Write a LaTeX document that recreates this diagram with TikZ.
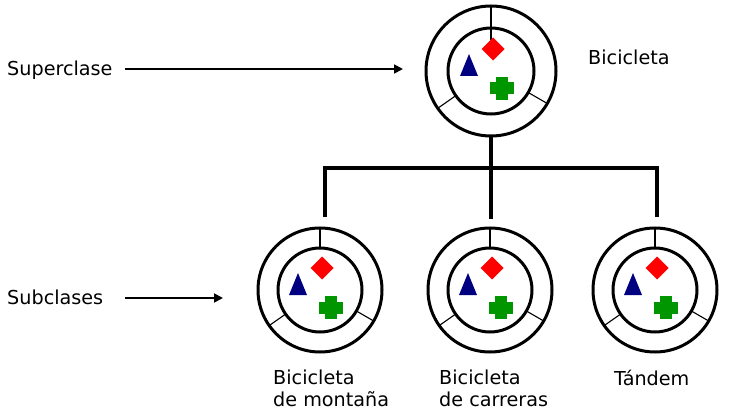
\documentclass[tikz,border=0pt]{standalone}
\usepackage{fontspec}
\setmainfont{DejaVu Sans}
\usetikzlibrary{arrows.meta}
\definecolor{navyc}{RGB}{0,0,128}
\definecolor{greenc}{RGB}{0,150,0}
\definecolor{redc}{RGB}{255,0,0}
\tikzset{
  ring/.style={circle, draw, line width=3pt, inner sep=0pt, outer sep=0pt},
  spoke/.style={line width=1.1pt},
  conn/.style={line width=3.6pt, line join=miter},
  arr/.style={line width=1.8pt, -{Triangle[length=9pt,width=9pt]}},
  lbl/.style={inner sep=0pt, font=\fontsize{19.2}{22}\selectfont},
  icons/.pic={
    \fill[redc] (2,-33.5) -- (13.5,-22) -- (2,-10.5) -- (-9.5,-22) -- cycle;
    \fill[navyc] (-22,-17) -- (-13,5) -- (-31,5) -- cycle;
    \fill[greenc] (5,6) rectangle (17,29);
    \fill[greenc] (-1,11.5) rectangle (23,23.5);
  }
}
\begin{document}
\begin{tikzpicture}[x=1pt,y=-1pt]
\useasboundingbox (0,0) rectangle (729,417);
% superclass
\node[ring, minimum size=130pt] (sup) at (491,71) {};
\node[ring, minimum size=86pt] (supin) at (491,71) {};
\draw[spoke] (sup.90) -- (supin.90);
\draw[spoke] (supin.90) -- ++(0,12);
\draw[spoke] (sup.215) -- (supin.215);
\draw[spoke] (sup.-30) -- (supin.-30);
\pic at (sup.center) {icons};
% subclasses
\foreach \n/\x in {s1/320,s2/490,s3/655}{
  \node[ring, minimum size=124pt] (\n) at (\x,290) {};
  \node[ring, minimum size=84pt] (\n in) at (\x,290) {};
  \draw[spoke] (\n.90) -- (\n in.90);
  \draw[spoke] (\n.215) -- (\n in.215);
  \draw[spoke] (\n.-30) -- (\n in.-30);
  \pic at (\n.center) {icons};
}
% connectors
\coordinate (j1) at (325,168);
\coordinate (j3) at (657,168);
\coordinate (d1) at (325,217);
\coordinate (d2) at (491,219);
\coordinate (d3) at (657,217);
\draw[conn] (d1) -- (j1) -- (j3) -- (d3);
\draw[conn] (sup.south) -- (d2);
% labels
\node[lbl, anchor=base west] (lsup) at (7,76) {Superclase};
\node[lbl, anchor=base west] (lsub) at (7,304) {Subclases};
\node[lbl, anchor=base west] (tsup) at (588,65) {Bicicleta};
\coordinate (a1s) at (125,69);
\coordinate (a1e) at (403,69);
\coordinate (a2s) at (125,298);
\coordinate (a2e) at (223,298);
\draw[arr] (a1s) -- (a1e);
\draw[arr] (a2s) -- (a2e);
\node[lbl, anchor=north west, align=left] (t1) at (273,370) {Bicicleta\\de montaña};
\node[lbl, anchor=north west, align=left] (t2) at (439,370) {Bicicleta\\de carreras};
\node[lbl, anchor=north west, align=left] (t3) at (614,370) {Tándem};
\end{tikzpicture}
\end{document}
